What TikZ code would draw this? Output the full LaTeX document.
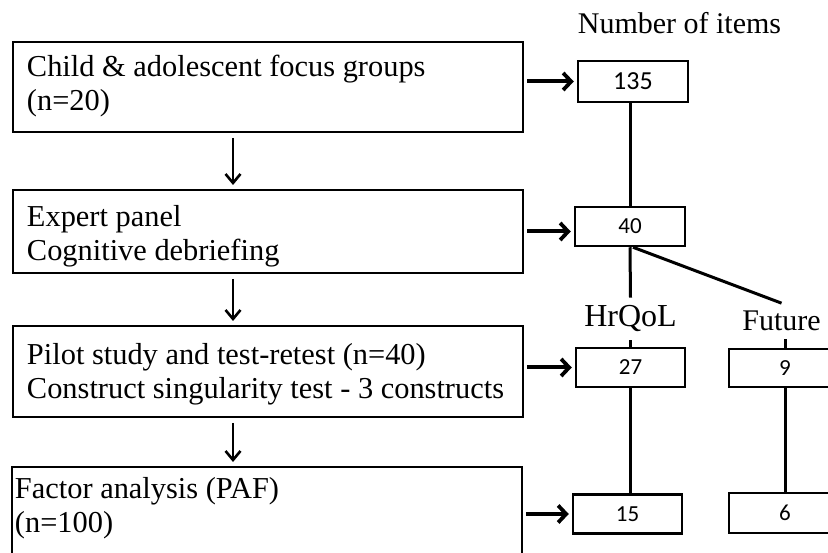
\documentclass[tikz,border=0pt]{standalone}
\usepackage{fontspec}
\setmainfont{Liberation Serif}
\newfontfamily\carlito{Carlito}
\usetikzlibrary{arrows.meta}
\tikzset{
  lbox/.style={draw, line width=2.5pt, outer sep=0pt, inner ysep=0pt, inner xsep=14pt,
    text width=482pt, align=flush left, anchor=north west, font=\fontsize{30.4}{34}\selectfont},
  rbox/.style={draw, line width=2.5pt, minimum width=110pt, minimum height=39pt, inner sep=0pt,
    font=\carlito\fontsize{23}{23}\selectfont},
  lbl/.style={font=\fontsize{30}{34}\selectfont, inner sep=8pt, anchor=base},
  downarrow/.style={line width=2.6pt, -{Straight Barb[length=9pt,width=15pt,line width=2.6pt]},
    shorten <=6pt, shorten >=5pt},
  rightarrow/.style={line width=4pt, -{Straight Barb[length=8pt,width=17pt,line width=3.8pt]},
    shorten <=4pt, shorten >=3pt},
  conn/.style={line width=3pt}
}
\begin{document}
\begin{tikzpicture}[x=1pt,y=-1pt]
\useasboundingbox (0,0) rectangle (828,553);
\clip (0,0) rectangle (828,553);
\fill[white] (0,0) rectangle (828,553);

% left column
\node[lbox, text height=35pt, text depth=55pt] (b1) at (13,42)
  {Child \& adolescent focus groups\\(n=20)};
\node[lbox, text height=37pt, text depth=46pt] (b2) at (13,190)
  {Expert panel\\Cognitive debriefing};
\node[lbox, text height=39pt, text depth=52pt] (b3) at (13,326)
  {Pilot study and test-retest (n=40)\\Construct singularity test - 3 constructs};
\node[lbox, inner xsep=3pt, text width=504pt, text height=31pt, text depth=110pt] (b4) at (12,467)
  {Factor analysis (PAF)\\(n=100)};

% right column
\node[lbl] (num) at (679.5,34) {Number of items};
\node[rbox, minimum height=41pt, font=\carlito\fontsize{26}{26}\selectfont] (n135) at (633,81.5) {135};
\node[rbox] (n40) at (630,226.5) {40};
\node[lbl, font=\fontsize{32}{34}\selectfont] (hr) at (630.5,327) {HrQoL};
\node[lbl] (fut) at (781.5,331) {Future};
\node[rbox, minimum width=109pt] (n27) at (630.5,367.5) {27};
\node[rbox, minimum width=112pt, minimum height=38pt] (n9) at (785,368) {9};
\node[rbox, minimum width=109pt] (n15) at (627.5,514) {15};
\node[rbox, minimum width=112pt, minimum height=40pt] (n6) at (785,513) {6};

% down arrows
\draw[downarrow] ([xshift=-35pt]b1.south) -- ([xshift=-35pt]b1.south |- b2.north);
\draw[downarrow] ([xshift=-35pt]b2.south) -- ([xshift=-35pt]b2.south |- b3.north);
\draw[downarrow] ([xshift=-35pt]b3.south) -- ([xshift=-35pt]b3.south |- b4.north);

% right arrows
\draw[rightarrow] (b1.east |- n135.west) -- (n135.west);
\draw[rightarrow] (b2.east) -- (b2.east -| n40.west);
\draw[rightarrow] (b3.east |- n27.west) -- (n27.west);
\draw[rightarrow] (b4.east |- n15.west) -- (n15.west);

% connectors
\draw[conn] (n135.south -| n40.north) -- (n40.north);
\draw[conn] (n40.south) -- (hr.north);
\draw[conn] (hr.south) -- (hr.south |- n27.north);
\draw[conn] ([xshift=3pt]n40.south) -- (fut.north);
\draw[conn] (fut.south -| n9.north) -- (n9.north);
\draw[conn] (n27.south) -- (n27.south |- n15.north);
\draw[conn] (n9.south) -- (n6.north);
\end{tikzpicture}
\end{document}
